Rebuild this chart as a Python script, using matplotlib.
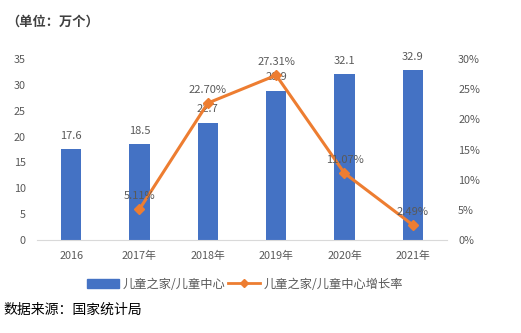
import matplotlib
matplotlib.use("Agg")
import matplotlib.pyplot as plt
from matplotlib.lines import Line2D
from matplotlib.patches import Patch

plt.rcParams['font.family'] = ['Noto Sans CJK SC', 'DejaVu Sans']

years = ["2016", "2017年", "2018年", "2019年", "2020年", "2021年"]
counts = [17.6, 18.5, 22.7, 28.9, 32.1, 32.9]
growth_years = ["2017年", "2018年", "2019年", "2020年", "2021年"]
growth = [5.11, 22.70, 27.31, 11.07, 2.49]
left_ticks = [0, 5, 10, 15, 20, 25, 30, 35]
right_ticks = [0, 5, 10, 15, 20, 25, 30]

bar_color = "#4472C4"
line_color = "#ED7D31"
text_color = "#595959"

fig = plt.figure(figsize=(5.21, 3.33), dpi=100)
ax = fig.add_axes([37/521, 1-240/333, 410/521, 181/333])
x = list(range(len(years)))
ax.bar(x, counts, width=0.3, color=bar_color, zorder=2)
for xi, v in zip(x, counts):
    ax.annotate(f"{v:g}", (xi, v), xytext=(0, 6), textcoords="offset points",
                ha="center", va="bottom", fontsize=8, color=text_color)
ax.set_ylim(0, 35)
ax.set_xlim(-0.5, len(years)-0.5)
ax.set_yticks(left_ticks)
ax.set_xticks(x)
ax.set_xticklabels(years)
ax.tick_params(axis="both", length=0, labelsize=7.8, labelcolor=text_color)
ax.tick_params(axis="x", pad=8)
ax.tick_params(axis="y", pad=8)
for s in ["top", "right", "left"]:
    ax.spines[s].set_visible(False)
ax.spines["bottom"].set_color("#D9D9D9")

ax2 = ax.twinx()
gx = [years.index(g) for g in growth_years]
ax2.plot(gx, growth, color=line_color, lw=2.2, marker="D", ms=5, zorder=3)
for xi, v in zip(gx, growth):
    ax2.annotate(f"{v:.2f}%", (xi, v), xytext=(0, 6), textcoords="offset points",
                 ha="center", va="bottom", fontsize=8, color=text_color)
ax2.set_ylim(0, 30)
ax2.set_yticks(right_ticks)
ax2.set_yticklabels([f"{t}%" for t in right_ticks])
ax2.tick_params(axis="y", length=0, labelsize=7.8, labelcolor=text_color, pad=8)
for s in ["top", "right", "left", "bottom"]:
    ax2.spines[s].set_visible(False)

fig.text(6/521, 1-22/333, "（单位：万个）", fontsize=9.5, fontweight="bold",
         color="#404040", va="center", ha="left")
fig.text(3/521, 1-310/333, "数据来源：国家统计局", fontsize=10, color="#000000",
         va="center", ha="left")

handles = [Patch(color=bar_color),
           Line2D([0], [0], color=line_color, lw=2, marker="D", ms=4)]
labels = ["儿童之家/儿童中心", "儿童之家/儿童中心增长率"]
fig.legend(handles, labels, loc="center", bbox_to_anchor=(245/521, 1-284/333),
           ncol=2, frameon=False, fontsize=8.8, labelcolor=text_color,
           handlelength=2.6, handletextpad=0.3, columnspacing=0.2)

fig.savefig("out.png", dpi=100)
